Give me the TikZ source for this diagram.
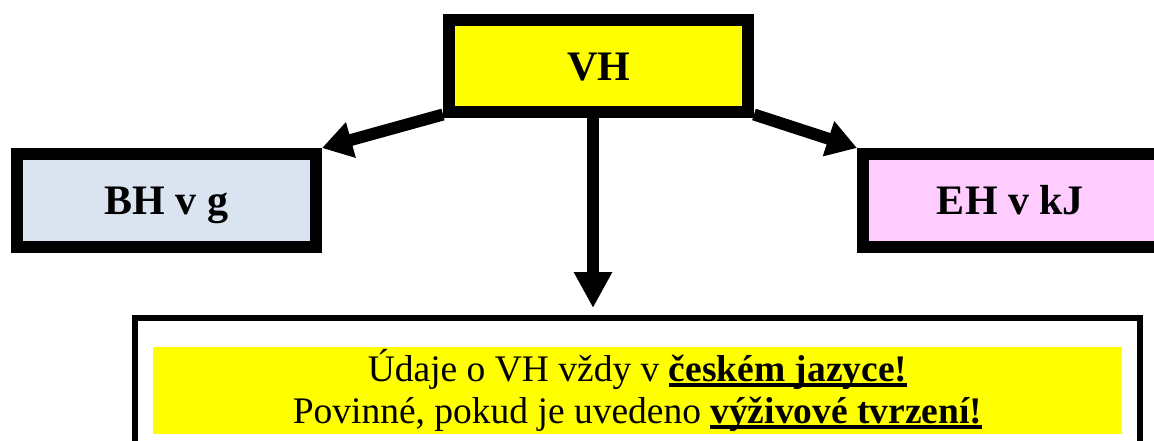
\documentclass[tikz,border=0pt]{standalone}
\usepackage{fontspec}
\setmainfont{Liberation Serif}
\usetikzlibrary{arrows.meta}
\definecolor{boxblue}{HTML}{DAE3F0}
\definecolor{boxpink}{HTML}{FFCCFF}
\definecolor{markyellow}{HTML}{FFFF00}
% heavy underline drawn as a rule below the baseline
\newcommand{\thickul}[1]{\setbox0=\hbox{#1}\rlap{\rule[-5pt]{\wd0}{3.8pt}}\box0}
\begin{document}
\begin{tikzpicture}[x=1pt,y=-1pt,
  keybox/.style={draw=black, line width=12pt, minimum width=299pt, minimum height=92pt,
    inner sep=0pt, font=\fontsize{42}{48}\selectfont\bfseries, text height=28.4pt, text depth=0pt},
  arr/.style={line width=12pt, -{Triangle[length=30pt,width=35pt]}},
]
\useasboundingbox (0,0) rectangle (1154,441);
\node[keybox, fill=markyellow] (vh) at (598.5,66) {VH};
\node[keybox, fill=boxblue, minimum height=93pt] (bh) at (166.5,200.5) {BH v g};
% the right-hand box runs past the right edge of the page
\node[keybox, fill=boxpink, minimum height=93pt, minimum width=311pt] (eh) at (1018.5,200.5)
  {\hspace*{-16pt}EH v kJ};
\node[draw, line width=6.3pt, minimum width=1005pt, minimum height=152pt, inner sep=0pt] (note) at (637.5,394) {};
\node[fill=markyellow, minimum width=969pt, minimum height=87pt, inner sep=0pt, align=center,
  font=\fontsize{37.5}{42}\selectfont] (mark) at (637.5,390.5)
  {Údaje o VH vždy v \thickul{\textbf{českém jazyce!}}\\
   Povinné, pokud je uvedeno \thickul{\textbf{výživové tvrzení!}}};
\coordinate (tip) at (593,308);
\draw[arr] ([yshift=3.5pt]vh.south west) -- (bh.north east);
\draw[arr] ([yshift=3.5pt]vh.south east) -- (eh.north west);
\draw[arr, -{Triangle[length=36pt,width=36pt]}] (vh.south -| tip) -- (tip);
\end{tikzpicture}
\end{document}
